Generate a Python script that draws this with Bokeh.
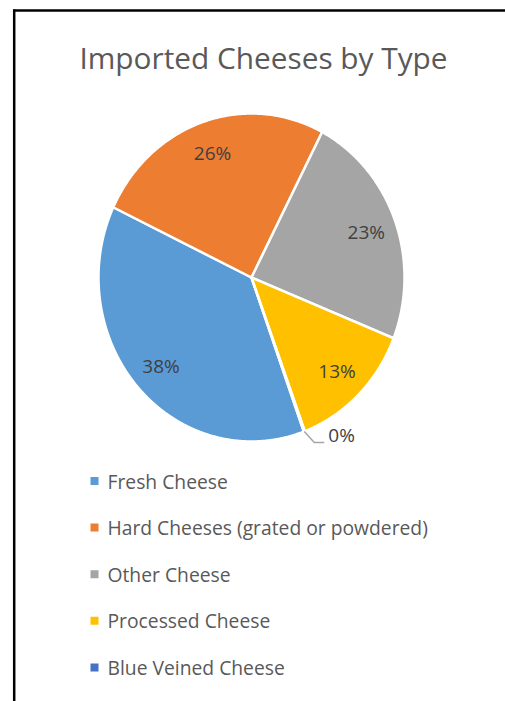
import numpy as np
from bokeh.plotting import figure
from bokeh.models import Range1d
from bokeh.core.properties import value
from bokeh.embed import file_html
from bokeh.resources import INLINE

# ---- data ----
title = "Imported Cheeses by Type"
categories = ["Fresh Cheese", "Hard Cheeses (grated or powdered)", "Other Cheese",
              "Processed Cheese", "Blue Veined Cheese"]
shares = [37.6, 25.6, 23.4, 13.3, 0.1]
labels = ["38%", "26%", "23%", "13%", "0%"]
colors = ["#5B9BD5", "#ED7D31", "#A5A5A5", "#FFC000", "#4472C4"]
first_slice_angle = 160  # degrees, clockwise from 12 o'clock

# ---- layout (pixels) ----
W, H = 505, 701
CX, CY, RX, RY = 251, 277, 153, 164


def X(px):
    return (px - CX) / RX


def Y(py):
    return (CY - py) / RY


FONT = value("Open Sans")

p = figure(width=W, height=H, output_backend="svg", toolbar_location=None,
           x_range=Range1d(X(0), X(W)), y_range=Range1d(Y(H), Y(0)),
           x_axis_type=None, y_axis_type=None, min_border=0)
p.grid.visible = False
p.outline_line_color = None
p.background_fill_color = "white"
p.border_fill_color = "white"

# ---- pie slices (unit circle; ranges make it the chart's ellipse) ----
vals = np.array(shares, dtype=float)
frac = vals / vals.sum()
ends = first_slice_angle + 360.0 * np.cumsum(frac)
starts = ends - 360.0 * frac
xs, ys = [], []
for a0, a1 in zip(starts, ends):
    n = max(int(abs(a1 - a0) * 3), 2)
    t = np.radians(np.linspace(a0, a1, n))
    xs.append(np.concatenate([[0.0], np.sin(t), [0.0]]))
    ys.append(np.concatenate([[0.0], np.cos(t), [0.0]]))
p.patches(xs, ys, fill_color=colors, line_color="white", line_width=2.5,
          line_join="miter")

# ---- data labels ----
mids = np.radians((starts + ends) / 2.0)
inside = frac >= 0.01
lx = [0.8 * np.sin(m) for m, ins in zip(mids, inside) if ins]
ly = [0.8 * np.cos(m) for m, ins in zip(mids, inside) if ins]
lt = [l for l, ins in zip(labels, inside) if ins]
p.text(x=lx, y=ly, text=lt, text_align="center", text_baseline="middle",
       text_font=FONT, text_font_size="19px", text_color="#404040")

# small slices: leader line + outside label
for m, l, ins in zip(mids, labels, inside):
    if ins:
        continue
    x0, y0 = np.sin(m), np.cos(m)
    x1, y1 = x0 + 10 / RX, y0 - 11 / RY
    x2 = x1 + 10 / RX
    p.line([x0, x1, x2], [y0, y1, y1], line_color="#A6A6A6", line_width=1.5)
    p.text(x=[x2 + 4 / RX], y=[y1 + 7 / RY], text=[l], text_align="left",
           text_baseline="middle", text_font=FONT, text_font_size="19px",
           text_color="#404040")

# ---- title ----
p.text(x=[X(263)], y=[Y(57)], text=[title], text_align="center",
       text_baseline="middle", text_font=FONT, text_font_size="29.8px",
       text_color="#595959")

# ---- legend ----
rows = np.arange(len(categories))
centers = 480.5 + 46.6 * rows
p.scatter(x=[X(94)] * len(categories), y=[Y(c) for c in centers],
          marker="square", size=8, fill_color=colors, line_color=None)
p.text(x=[X(107)] * len(categories), y=[Y(c) for c in centers], text=categories,
       text_align="left", text_baseline="middle", text_font=FONT,
       text_font_size="19.3px", text_color="#595959")

# ---- chart-area border (top and left edges visible) ----
p.line([X(12.5), X(W)], [Y(10), Y(10)], line_color="black", line_width=2.5)
p.line([X(13.7), X(13.7)], [Y(9), Y(H)], line_color="black", line_width=2.5)

open("out.html", "w").write(file_html(p, INLINE))
